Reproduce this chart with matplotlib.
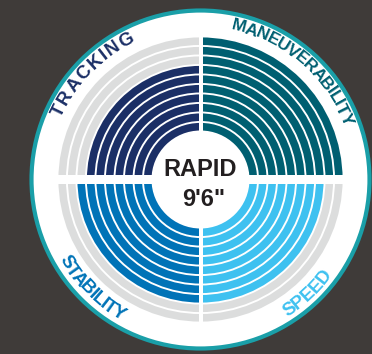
import math
import matplotlib
matplotlib.use("Agg")
import matplotlib.pyplot as plt
from matplotlib.patches import Wedge, Circle, Rectangle
from matplotlib.font_manager import FontProperties
from matplotlib.textpath import TextToPath

# ---- data ----
categories = ["TRACKING", "MANEUVERABILITY", "STABILITY", "SPEED"]
scores = [7, 10, 8, 8]
max_score = 10
title_lines = ["RAPID", "9'6\""]

# ---- styling ----
bg = "#3f3b39"
teal_edge = "#1a9fa8"
ring_colors = ["#1b2f66", "#005f71", "#0073b7", "#3ec1f0"]
grey = "#dcdddd"
quad_angles = [(90, 180), (0, 90), (180, 270), (270, 360)]
# label angular extent (first letter centre -> last letter centre), and orientation
label_spans = [(154, 118), (76, 22.5), (211.5, 238.5), (304.5, 322)]
label_top = [True, True, False, False]
label_sizes = [13.5, 12.5, 13.5, 13.5]

W, H = 372, 354
fig = plt.figure(figsize=(W / 100, H / 100), dpi=100, facecolor=bg)
ax = fig.add_axes([0, 0, 1, 1])
ax.set_xlim(0, W)
ax.set_ylim(0, H)
ax.set_aspect("equal")
ax.axis("off")
ax.set_facecolor(bg)

cx, cy = 200.5, H - 179.5
R_big = 169
ax.add_patch(Circle((cx, cy), R_big, facecolor="white", edgecolor=teal_edge, lw=3.0, zorder=1))

r0 = 49.0
pitch = 9.5
w = 7.6
for cat, sc, col, (t1, t2) in zip(categories, scores, ring_colors, quad_angles):
    for i in range(max_score):
        rin = r0 + i * pitch
        c = col if i < sc else grey
        ax.add_patch(Wedge((cx, cy), rin + w, t1, t2, width=w, facecolor=c, edgecolor="none", zorder=2))

# quadrant gaps
gap_h = 9
gap_v = 4
ax.add_patch(Rectangle((cx - 146, cy - gap_h / 2), 292, gap_h, facecolor="white", edgecolor="none", zorder=3))
ax.add_patch(Rectangle((cx - gap_v / 2, cy - 146), gap_v, 292, facecolor="white", edgecolor="none", zorder=3))

# centre text
fp_c = FontProperties(family=["Liberation Sans", "DejaVu Sans"], weight="bold", size=17)
ax.text(cx - 0.5, H - 170, title_lines[0], fontproperties=fp_c, ha="center", va="center", color="#231f20", zorder=5)
ax.text(cx + 3, H - 199, title_lines[1], fontproperties=fp_c, ha="center", va="center", color="#231f20", zorder=5)

# curved labels
t2p = TextToPath()
r_lab = 157.5
for cat, col, (a_start, a_end), top, fs in zip(categories, ring_colors, label_spans, label_top, label_sizes):
    fp_l = FontProperties(family=["Liberation Sans Narrow", "Liberation Sans", "DejaVu Sans"], weight="bold", size=fs)
    widths = [t2p.get_text_width_height_descent(ch, fp_l, ismath=False)[0] for ch in cat]
    centers = []
    acc = 0.0
    for wd in widths:
        centers.append(acc + wd / 2)
        acc += wd
    c0, c1 = centers[0], centers[-1]
    for ch, cpos in zip(cat, centers):
        ang = a_start + (a_end - a_start) * (cpos - c0) / (c1 - c0)
        x = cx + r_lab * math.cos(math.radians(ang))
        y = cy + r_lab * math.sin(math.radians(ang))
        rot = ang - 90 if top else ang + 90
        ax.text(x, y, ch, fontproperties=fp_l, color=col, rotation=rot, rotation_mode="anchor",
                ha="center", va="center", zorder=5)

fig.savefig("out.png", dpi=100, facecolor=bg)
